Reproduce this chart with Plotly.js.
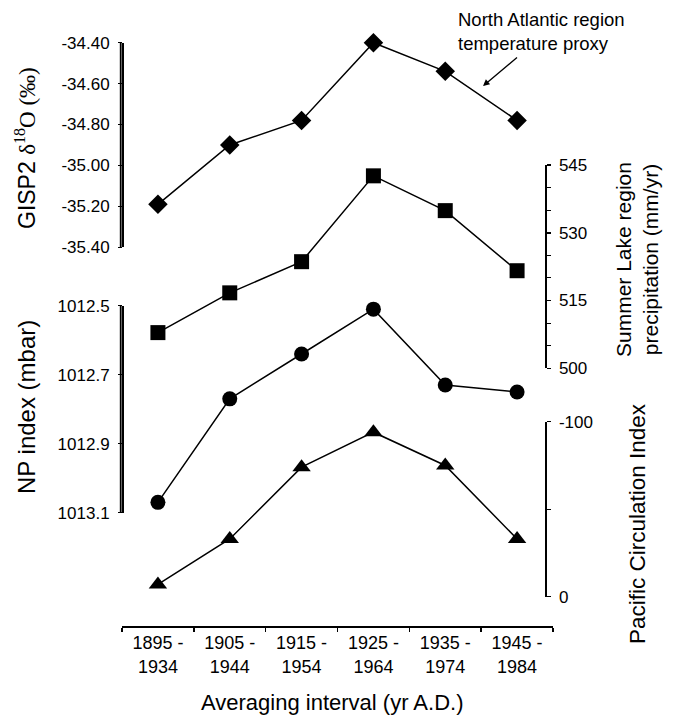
<!DOCTYPE html>
<html>
<head>
<meta charset="utf-8">
<script src="https://cdn.plot.ly/plotly-3.0.1.min.js"></script>
<style>html,body{margin:0;padding:0;background:#fff;}#chart{width:673px;height:719px;}</style>
</head>
<body>
<div id="chart"></div>
<script>
var intervals = ['1895 -<br>1934', '1905 -<br>1944', '1915 -<br>1954', '1925 -<br>1964', '1935 -<br>1974', '1945 -<br>1984'];
var gisp2 = [-35.19, -34.90, -34.78, -34.40, -34.54, -34.78];
var summerLake = [507.9, 516.7, 523.6, 542.6, 534.9, 521.6];
var npIndex = [1013.07, 1012.77, 1012.64, 1012.51, 1012.73, 1012.75];
var pacific = [-7, -33, -74, -94, -75, -33];

var gispTicks = [-34.4, -34.6, -34.8, -35.0, -35.2, -35.4];
var gispTickText = ['-34.40', '-34.60', '-34.80', '-35.00', '-35.20', '-35.40'];
var lakeTicks = [500, 515, 530, 545];
var npTicks = [1012.5, 1012.7, 1012.9, 1013.1];
var npTickText = ['1012.5', '1012.7', '1012.9', '1013.1'];
var pciTicks = [-100, 0];
var pciTickText = ['-100', '0'];

var gispRange = [-35.4, -34.4];
var lakeRange = [500, 545];
var npRange = [1013.1, 1012.5];
var pciRange = [0, -100];

var FONT = 'Liberation Sans, Arial, sans-serif';
var L = 122, R = 120, T = 30, B = 93;
var W = 673, H = 719;
var pw = W - L - R, ph = H - T - B;
function px2x(p) { return (p - L) / pw; }
function px2y(p) { return (H - B - p) / ph; }

function tr(y, ax, sym, size) {
  return {
    x: intervals, y: y, yaxis: ax, xaxis: 'x', type: 'scatter', mode: 'lines+markers',
    cliponaxis: false,
    line: {color: '#000', width: 1.5},
    marker: {symbol: sym, size: size, color: '#000'},
    hoverinfo: 'none', showlegend: false
  };
}

var data = [
  tr(gisp2, 'y', 'diamond', 15),
  tr(summerLake, 'y2', 'square', 15),
  tr(npIndex, 'y3', 'circle', 15),
  tr(pacific, 'y4', 'triangle-up', 16)
];

var baseY = {
  showgrid: false, zeroline: false, showline: true, linecolor: '#000', linewidth: 1.5,
  ticks: 'outside', ticklen: 4, tickcolor: '#000', tickwidth: 1.5, ticklabelstandoff: 5,
  tickfont: {family: FONT, size: 17, color: '#000'}, fixedrange: true
};

var gispDomain = [px2y(247.3), px2y(42.7)];
var lakeDomain = [px2y(368.3), px2y(165)];
var npDomain = [px2y(512.7), px2y(305.7)];
var pciDomain = [px2y(596.7), px2y(421.7)];

function axisLine(dom) {
  return {type: 'line', xref: 'paper', yref: 'paper', x0: -0.003, x1: -0.003, y0: dom[0], y1: dom[1],
          line: {color: '#000', width: 1.8}, layer: 'above'};
}

var layout = {
  width: W, height: H,
  margin: {l: L, r: R, t: T, b: B},
  paper_bgcolor: '#fff', plot_bgcolor: 'rgba(0,0,0,0)',
  font: {family: FONT, color: '#000'},
  xaxis: {
    type: 'category', categoryorder: 'array', categoryarray: intervals,
    range: [-0.5, 5.5], anchor: 'free', position: 0,
    showgrid: false, zeroline: false, showline: true, linecolor: '#000', linewidth: 1.5,
    ticks: 'outside', ticklen: 4, tickcolor: '#000', tickwidth: 1.5, tickson: 'boundaries',
    tickfont: {family: FONT, size: 18, color: '#000'}, fixedrange: true
  },
  yaxis: Object.assign({}, baseY, {
    domain: gispDomain, range: gispRange, anchor: 'free', position: 0,
    tickmode: 'array', tickvals: gispTicks, ticktext: gispTickText, side: 'left'
  }),
  yaxis2: Object.assign({}, baseY, {
    domain: lakeDomain, range: lakeRange, anchor: 'free',
    tickmode: 'array', tickvals: lakeTicks, side: 'right', position: px2x(545),
    minor: {dtick: 5, tick0: 500, ticks: 'outside', ticklen: 4, tickcolor: '#000', tickwidth: 1}
  }),
  yaxis3: Object.assign({}, baseY, {
    domain: npDomain, range: npRange, anchor: 'free', position: 0,
    tickmode: 'array', tickvals: npTicks, ticktext: npTickText, side: 'left'
  }),
  yaxis4: Object.assign({}, baseY, {
    domain: pciDomain, range: pciRange, anchor: 'free',
    tickmode: 'array', tickvals: pciTicks, ticktext: pciTickText, side: 'right', position: px2x(545),
    minor: {tickvals: [-50], ticks: 'outside', ticklen: 4, tickcolor: '#000', tickwidth: 1}
  }),
  shapes: [axisLine(gispDomain), axisLine(npDomain)],
  annotations: [
    {xref: 'paper', yref: 'paper', x: px2x(456), y: px2y(7), xanchor: 'left', yanchor: 'top',
     align: 'left', showarrow: false, text: 'North Atlantic region<br>temperature proxy',
     font: {family: FONT, size: 18.5, color: '#000'}},
    {xref: 'paper', yref: 'paper', x: px2x(483), y: px2y(86), text: ' ', showarrow: true,
     axref: 'pixel', ayref: 'pixel', ax: 37, ay: -31, arrowhead: 2, arrowsize: 1, arrowwidth: 1.3,
     arrowcolor: '#000', standoff: 0, startstandoff: 0},
    {xref: 'paper', yref: 'paper', x: px2x(25), y: px2y(148), textangle: -90, showarrow: false,
     xanchor: 'center', yanchor: 'middle',
     text: 'GISP2 <span style="font-family:Liberation Serif">δ<sup>18</sup>O (‰)</span>',
     font: {family: FONT, size: 23, color: '#000'}},
    {xref: 'paper', yref: 'paper', x: px2x(26), y: px2y(407), textangle: -90, showarrow: false,
     xanchor: 'center', yanchor: 'middle', text: 'NP index (mbar)',
     font: {family: FONT, size: 24, color: '#000'}},
    {xref: 'paper', yref: 'paper', x: px2x(637), y: px2y(260), textangle: -90, showarrow: false,
     xanchor: 'center', yanchor: 'middle', text: 'Summer Lake region<br>precipitation (mm/yr)',
     font: {family: FONT, size: 21, color: '#000'}},
    {xref: 'paper', yref: 'paper', x: px2x(637), y: px2y(524), textangle: -90, showarrow: false,
     xanchor: 'center', yanchor: 'middle', text: 'Pacific Circulation Index',
     font: {family: FONT, size: 22.5, color: '#000'}},
    {xref: 'paper', yref: 'paper', x: px2x(332), y: px2y(702), showarrow: false,
     xanchor: 'center', yanchor: 'middle', text: 'Averaging interval (yr A.D.)',
     font: {family: FONT, size: 22, color: '#000'}}
  ]
};

Plotly.newPlot('chart', data, layout, {staticPlot: true, displayModeBar: false});
</script>
</body>
</html>
